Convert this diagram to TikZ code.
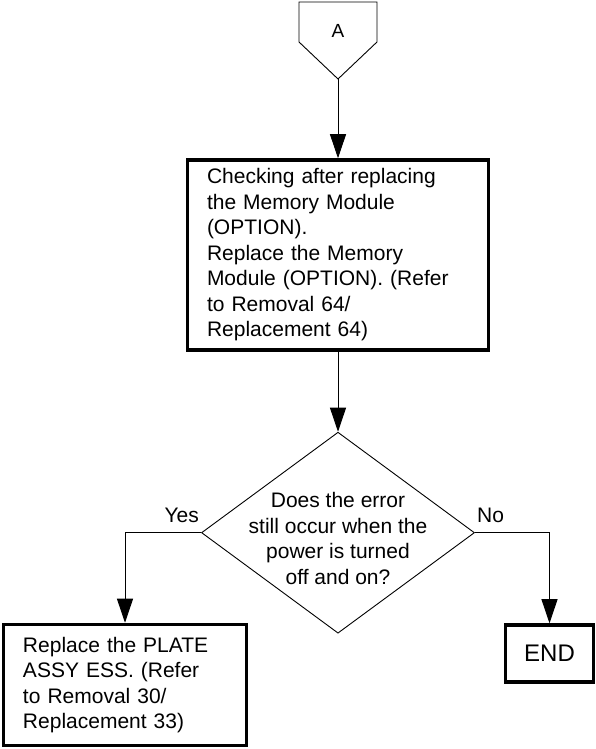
\documentclass[tikz,border=0pt]{standalone}
\usepackage{fontspec}
\setmainfont{Liberation Sans}
\usetikzlibrary{shapes.geometric,arrows.meta,positioning}

\begin{document}
\begin{tikzpicture}[
    x=1pt, y=1pt,
    txt/.style={font=\fontsize{21}{25.5}\selectfont},
    proc/.style={rectangle, draw=black, line width=3.5pt, align=left, inner sep=0pt, txt},
    decide/.style={diamond, draw=black, line width=0.9pt, minimum width=273pt, minimum height=201pt, inner sep=0pt},
    arr/.style={-{Triangle[length=24pt, width=16pt]}, line width=0.9pt},
    lbl/.style={inner sep=0pt, txt}
]
\useasboundingbox (0,0) rectangle (596,749);

% off-page connector
\draw[line width=0.9pt] (299,747) -- (377,747) -- (377,707) -- (338,670) -- (299,707) -- cycle;
\node[lbl, font=\fontsize{19}{22}\selectfont] (conA) at (338,718) {A};
\coordinate (conAtip) at (338,670);

\node[proc, minimum width=301pt, minimum height=190pt, text width=262pt] (chk) at (338,494)
    {Checking after replacing\\the Memory Module\\(OPTION).\\Replace the Memory\\Module (OPTION). (Refer\\to Removal 64/\\Replacement 64)};
\node[decide, below=80pt of chk] (dec) {};
\node[lbl, align=center, yshift=-6pt] (decq) at (dec) {Does the error\\still occur when the\\power is turned\\off and on?};

\node[proc, minimum width=243pt, minimum height=121pt, text width=204pt] (plate) at (125,64)
    {Replace the PLATE\\ASSY ESS. (Refer\\to Removal 30/\\Replacement 33)};
\node[proc, minimum width=88pt, minimum height=57pt, align=center, font=\fontsize{24}{28}\selectfont] (finish) at (549.5,95.5) {END};

\draw[arr] (conAtip) -- (chk);
\draw[arr] (chk) -- (dec);
\draw[arr] (dec.west) -| (plate.north);
\draw[arr] (dec.east) -| (finish.north);

\node[lbl, anchor=base east] (yes) at ([shift={(-2pt,10pt)}]dec.west) {Yes};
\node[lbl, anchor=base west] (no) at ([shift={(2pt,10pt)}]dec.east) {No};
\end{tikzpicture}
\end{document}
